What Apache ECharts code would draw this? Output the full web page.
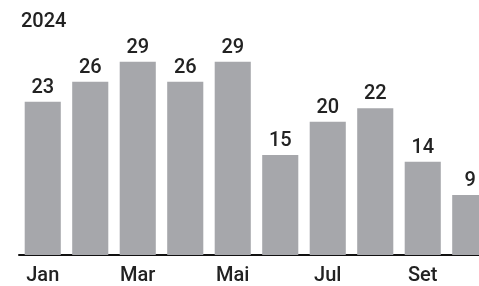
<!DOCTYPE html>
<html><head><meta charset="utf-8">
<script src="https://cdn.jsdelivr.net/npm/echarts@6/dist/echarts.min.js"></script>
<style>html,body{margin:0;padding:0;background:#fff;overflow:hidden;width:479px;height:286px}#c{width:495px;height:286px}</style>
</head><body><div id="c"></div>
<script>
const categories = ['Jan','Fev','Mar','Abr','Mai','Jun','Jul','Ago','Set','Out'];
const values = [23,26,29,26,29,15,20,22,14,9];
const titleText = '2024';

const chart = echarts.init(document.getElementById('c'), null, {renderer:'canvas'});
chart.setOption({
  animation:false,
  title:{text:titleText,left:16,top:7,textStyle:{fontFamily:'Roboto',fontSize:20,fontWeight:500,color:'#222'}},
  grid:{left:19,right:1,top:35,bottom:31,containLabel:false},
  xAxis:{type:'category',data:categories,
    axisLine:{show:true,lineStyle:{color:'#111',width:2}},
    axisTick:{show:false},
    axisLabel:{interval:1,margin:11,fontFamily:'Roboto',fontSize:20,fontWeight:500,color:'#222'}},
  yAxis:{type:'value',min:0,max:33,show:false,splitLine:{show:false}},
  series:[{type:'bar',data:values,barCategoryGap:'24%',
    itemStyle:{color:'#a6a7ab'},
    label:{show:true,position:'top',distance:4,fontFamily:'Roboto',fontSize:20,fontWeight:500,color:'#222'}}]
});
</script></body></html>
